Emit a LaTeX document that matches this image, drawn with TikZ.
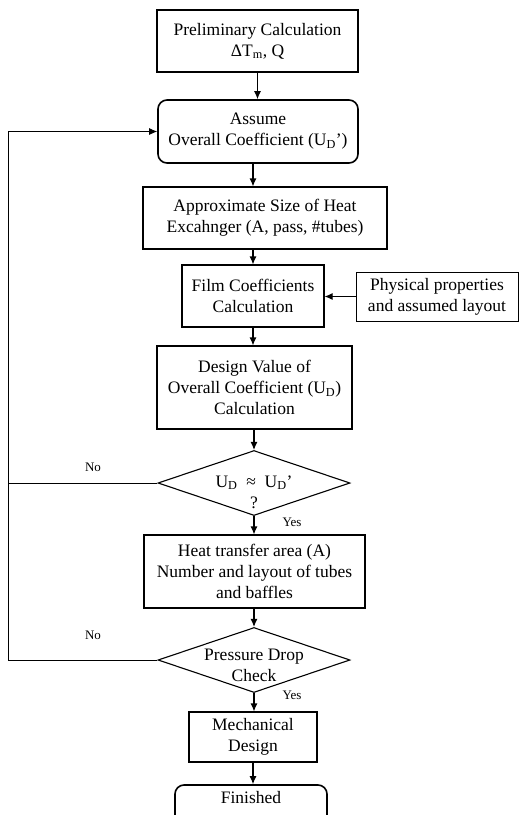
\documentclass[tikz,border=0pt]{standalone}
\usepackage{fontspec}
\setmainfont{Liberation Serif}
\usetikzlibrary{shapes.geometric,arrows.meta}
\begin{document}
\begin{tikzpicture}[x=1pt,y=-1pt,
  box/.style={draw,line width=1.1pt,align=center,inner sep=0pt,font=\fontsize{17.5}{21}\selectfont},
  rbox/.style={box,rounded corners=9pt,line width=1.6pt},
  dia/.style={draw,diamond,line width=1.1pt,inner sep=0pt,minimum width=192pt,minimum height=65pt},
  txt/.style={align=center,inner sep=0pt,font=\fontsize{17.5}{21}\selectfont},
  lab/.style={inner sep=0pt,font=\fontsize{13}{15}\selectfont},
  arr/.style={-{Latex[length=8pt,width=7pt]},line width=1.1pt},
  fback/.style={line width=0.8pt}]
\useasboundingbox (0,0) rectangle (525,815);
\node[box,minimum width=201pt,minimum height=62pt] (pre) at (257.5,41) {Preliminary Calculation\\ΔT\textsubscript{m}, Q};
\node[rbox,minimum width=200pt,minimum height=63pt] (ass) at (258,131.5) {Assume\\Overall Coefficient (U\textsubscript{D}')};
\node[box,minimum width=244pt,minimum height=62pt] (app) at (265,218) {Approximate Size of Heat\\Excahnger (A, pass, \#tubes)};
\node[box,minimum width=142pt,minimum height=62pt] (film) at (253,296) {Film Coefficients\\Calculation};
\node[box,minimum width=162pt,minimum height=49pt,line width=0.8pt] (phys) at (437,296.5) {Physical properties\\and assumed layout};
\node[box,minimum width=195pt,minimum height=83pt] (des) at (254.5,387.5) {Design Value of\\Overall Coefficient (U\textsubscript{D})\\Calculation};
\node[dia] (d1) at (254,483) {};
\node[txt] (d1t) at (254,492) {U\textsubscript{D}\enspace≈\enspace U\textsubscript{D}'\\?};
\node[box,minimum width=221pt,minimum height=73pt] (heat) at (254.5,571.5) {Heat transfer area (A)\\Number and layout of tubes\\and baffles};
\node[dia] (d2) at (254,660) {};
\node[txt] (d2t) at (254,665) {Pressure Drop\\Check};
\node[box,minimum width=128pt,minimum height=50pt] (mech) at (253,737) {Mechanical\\Design};
\node[rbox,minimum width=152pt,minimum height=46pt] (fin) at (251,808) {};
\node[txt] (fint) at (251,798) {Finished};
\node[lab] (yes1) at (292,522) {Yes};
\node[lab] (yes2) at (292,695) {Yes};
\node[lab] (no1) at (93,467) {No};
\node[lab] (no2) at (93,635) {No};
\coordinate (c1) at (8,483);
\coordinate (c2) at (8,660);
\coordinate (c3) at (8,131.5);
\draw[arr] (pre.south) -- (pre.south |- ass.north);
\draw[arr] (ass.south -| film.north) -- (film.north |- app.north);
\draw[arr] (app.south -| film.north) -- (film.north);
\draw[arr] (film.south) -- (film.south |- des.north);
\draw[arr] (des.south -| d1.north) -- (d1.north);
\draw[arr] (d1.south) -- (d1.south |- heat.north);
\draw[arr] (heat.south -| d2.north) -- (d2.north);
\draw[arr] (d2.south) -- (d2.south |- mech.north);
\draw[arr] (mech.south) -- (mech.south |- fin.north);
\draw[arr] (phys.west) -- (phys.west -| film.east);
\draw[fback] (d1.west) -- (c1);
\draw[fback,-{Latex[length=8pt,width=7pt]}] (d2.west) -- (c2) -- (c3) -- (ass.west);
\end{tikzpicture}
\end{document}
